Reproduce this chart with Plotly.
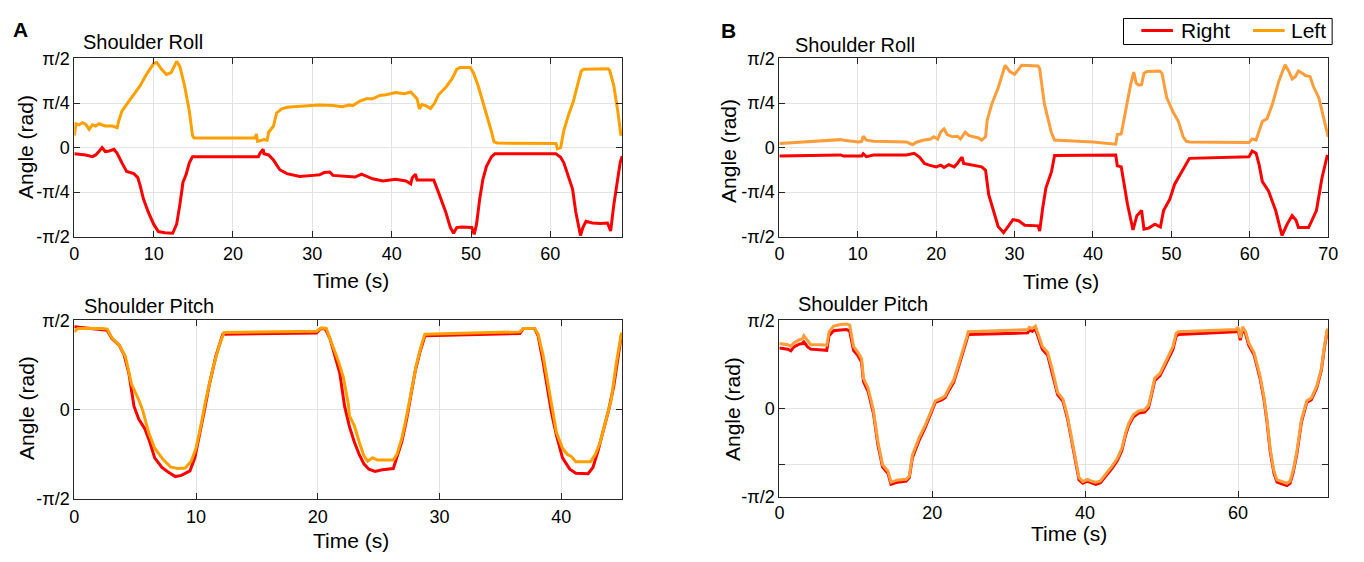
import plotly.graph_objects as go

# ---------------- Data (angles in rad, time in s) ----------------
# Panel A - Shoulder Roll
a_roll_left_t = [0, 0.2, 0.6, 1.04, 1.45, 1.87, 2.28, 2.7, 3.1, 3.9, 4.8, 5.4, 5.6, 6.0, 6.85, 7.7, 8.3, 9.1, 10.0, 10.4,
                 11.0, 11.6, 12.2, 12.9, 13.3, 13.9, 14.5, 14.9, 15.1, 22.8, 22.95, 23.1, 23.9, 24.3, 24.5, 25.1, 25.5, 26.1, 26.8, 27.6,
                 29.3, 30.9, 32.6, 33.8, 34.6, 35.1, 36.0, 36.8, 37.6, 38.5, 39.3, 40.5, 41.6, 42.4, 42.8, 43.2, 43.5, 43.8, 44.3, 44.9,
                 45.4, 45.9, 46.8, 47.6, 48.2, 48.6, 49.9, 50.3, 50.9, 51.5, 52.2, 52.6, 52.9, 53.3, 60.7, 60.9, 61.3, 61.7, 62.3, 62.9,
                 63.4, 63.9, 64.2, 67.3, 67.5, 68.0, 68.5, 68.9, 69.0]
a_roll_left_v = [0.21, 0.42, 0.40, 0.44, 0.41, 0.32, 0.40, 0.38, 0.42, 0.38, 0.38, 0.35, 0.47, 0.64, 0.81, 0.98, 1.09, 1.29, 1.48, 1.50,
                 1.38, 1.29, 1.32, 1.52, 1.43, 1.09, 0.64, 0.21, 0.17, 0.17, 0.24, 0.11, 0.14, 0.13, 0.27, 0.38, 0.61, 0.68, 0.71, 0.72,
                 0.73, 0.75, 0.74, 0.72, 0.75, 0.74, 0.82, 0.86, 0.86, 0.92, 0.93, 0.97, 0.95, 0.98, 0.92, 0.86, 0.68, 0.76, 0.74, 0.69,
                 0.78, 0.93, 1.06, 1.21, 1.38, 1.41, 1.41, 1.32, 1.09, 0.81, 0.47, 0.27, 0.10, 0.08, 0.07, -0.02, 0.0, 0.30, 0.58, 0.81,
                 1.09, 1.35, 1.38, 1.39, 1.35, 1.09, 0.64, 0.21, 0.27]
a_roll_right_t = [0, 1.45, 2.28, 2.7, 3.1, 3.5, 3.9, 4.4, 5.0, 5.4, 6.0, 6.6, 7.5, 8.0, 8.3, 8.7, 9.3, 10.0, 10.6, 11.4,
                  12.4, 12.9, 13.3, 13.7, 14.1, 14.5, 14.9, 23.2, 23.4, 23.8, 23.9, 24.5, 25.1, 25.9, 26.8, 27.6, 28.4, 30.1, 30.9, 31.5,
                  32.2, 32.6, 33.4, 34.6, 35.4, 36.2, 36.8, 37.6, 38.9, 40.5, 41.8, 42.4, 42.6, 43.0, 43.2, 45.3, 45.9, 46.8, 47.4, 47.8,
                  48.2, 48.8, 50.1, 50.4, 50.7, 51.1, 51.5, 51.95, 52.6, 53.0, 60.7, 61.3, 61.7, 62.3, 62.8, 63.2, 63.8, 64.1, 64.5, 65.3,
                  66.3, 67.2, 67.6, 68.0, 68.4, 68.8, 69.05]
a_roll_right_v = [-0.11, -0.13, -0.16, -0.13, -0.07, 0.0, -0.07, -0.06, -0.03, -0.10, -0.27, -0.42, -0.46, -0.53, -0.67, -0.90, -1.13, -1.35, -1.48, -1.50,
                  -1.51, -1.35, -1.01, -0.61, -0.47, -0.27, -0.16, -0.16, -0.10, -0.03, -0.11, -0.13, -0.22, -0.39, -0.46, -0.48, -0.51, -0.49, -0.48, -0.44,
                  -0.43, -0.49, -0.50, -0.51, -0.52, -0.47, -0.50, -0.55, -0.59, -0.56, -0.59, -0.64, -0.53, -0.47, -0.57, -0.57, -0.79, -1.13, -1.41, -1.51,
                  -1.41, -1.40, -1.41, -1.53, -1.35, -0.90, -0.56, -0.33, -0.16, -0.11, -0.11, -0.17, -0.27, -0.50, -0.73, -1.13, -1.55, -1.41, -1.30, -1.33,
                  -1.34, -1.33, -1.47, -1.01, -0.61, -0.27, -0.15]

# Panel B - Shoulder Roll
b_roll_left_t = [0, 3.6, 7.8, 8.2, 10.1, 10.5, 10.7, 11.1, 12.0, 16.2, 17.0, 17.4, 18.3, 19.3, 19.7, 20.2, 20.6, 21.0, 21.4, 22.1,
                 22.7, 23.1, 23.7, 24.2, 24.8, 25.4, 25.8, 26.3, 26.5, 27.1, 27.9, 28.8, 29.4, 30.0, 30.9, 33.0, 33.2, 33.8, 34.7, 35.1,
                 35.5, 40.0, 42.9, 43.1, 43.6, 43.9, 44.4, 44.8, 45.2, 45.5, 45.8, 46.2, 46.5, 46.9, 48.5, 48.8, 49.4, 50.2, 50.9, 51.5,
                 51.9, 52.3, 59.9, 60.3, 60.8, 61.2, 61.6, 62.2, 62.9, 63.7, 64.5, 65.0, 65.4, 65.8, 66.2, 66.7, 67.1, 67.7, 68.1, 68.8,
                 69.4, 70.0]
b_roll_left_v = [0.07, 0.10, 0.14, 0.13, 0.10, 0.11, 0.20, 0.13, 0.11, 0.10, 0.05, 0.09, 0.13, 0.15, 0.19, 0.15, 0.28, 0.33, 0.23, 0.19,
                 0.20, 0.15, 0.27, 0.21, 0.19, 0.17, 0.13, 0.19, 0.48, 0.77, 1.05, 1.45, 1.34, 1.29, 1.45, 1.44, 1.39, 0.77, 0.26, 0.13,
                 0.13, 0.10, 0.06, 0.23, 0.24, 0.46, 0.83, 1.11, 1.33, 1.14, 1.10, 1.11, 1.31, 1.34, 1.35, 1.31, 0.88, 0.63, 0.46, 0.19,
                 0.11, 0.10, 0.09, 0.15, 0.13, 0.28, 0.46, 0.51, 0.77, 1.17, 1.46, 1.34, 1.21, 1.25, 1.35, 1.31, 1.27, 1.25, 1.08, 0.88,
                 0.54, 0.19]
b_roll_right_t = [0, 7.8, 8.2, 10.5, 10.7, 11.1, 12.0, 16.2, 17.2, 17.9, 18.5, 19.1, 20.0, 20.6, 21.0, 21.6, 22.3, 22.7, 23.1, 23.3,
                  23.5, 24.6, 25.8, 26.3, 26.7, 27.3, 27.9, 28.6, 29.2, 29.8, 30.5, 31.3, 33.0, 33.2, 33.6, 34.0, 34.7, 35.1, 42.9, 43.1,
                  43.6, 43.9, 44.4, 45.1, 45.6, 46.2, 46.5, 47.1, 47.9, 48.6, 49.0, 49.8, 50.4, 51.1, 52.3, 59.9, 60.3, 60.8, 61.2, 61.6,
                  62.4, 63.3, 64.1, 64.8, 65.4, 65.9, 66.2, 67.5, 67.9, 68.5, 69.2, 69.9]
b_roll_right_v = [-0.15, -0.13, -0.15, -0.15, -0.11, -0.16, -0.13, -0.13, -0.10, -0.17, -0.28, -0.31, -0.34, -0.31, -0.35, -0.30, -0.34, -0.28, -0.20, -0.17,
                  -0.28, -0.31, -0.34, -0.40, -0.83, -1.11, -1.39, -1.50, -1.39, -1.27, -1.29, -1.37, -1.38, -1.47, -1.05, -0.71, -0.43, -0.14, -0.13, -0.32,
                  -0.34, -0.60, -1.00, -1.45, -1.20, -1.11, -1.44, -1.42, -1.35, -1.40, -1.11, -0.91, -0.65, -0.48, -0.19, -0.16, -0.06, -0.10, -0.31, -0.60,
                  -0.77, -1.11, -1.55, -1.34, -1.20, -1.28, -1.41, -1.41, -1.29, -1.11, -0.54, -0.13]

# Panel A - Shoulder Pitch
a_pitch_right_t = [0, 1.2, 2.3, 2.7, 3.1, 3.7, 4.1, 4.5, 4.9, 5.3, 5.8, 6.2, 6.6, 7.2, 7.7, 8.3, 8.8, 9.5, 9.9, 10.3,
                   10.7, 11.1, 11.65, 12.2, 19.9, 20.2, 20.6, 21.0, 21.4, 21.8, 22.2, 22.6, 23.0, 23.4, 23.8, 24.2, 24.7, 25.3, 26.2, 26.5,
                   26.9, 27.3, 27.6, 28.0, 28.4, 28.8, 36.6, 36.9, 37.8, 38.1, 38.5, 38.9, 39.2, 39.6, 40.1, 40.7, 41.2, 42.2, 42.6, 43.0,
                   43.4, 43.9, 44.3, 44.7, 44.95]
a_pitch_right_v = [1.46, 1.43, 1.40, 1.40, 1.25, 1.13, 0.96, 0.62, 0.06, -0.17, -0.34, -0.57, -0.85, -1.02, -1.10, -1.18, -1.16, -1.08, -0.85, -0.45,
                   0.0, 0.45, 0.96, 1.33, 1.35, 1.42, 1.43, 1.25, 0.96, 0.65, 0.06, -0.30, -0.57, -0.79, -0.96, -1.05, -1.09, -1.06, -1.04, -0.85,
                   -0.57, -0.17, 0.17, 0.68, 1.02, 1.30, 1.34, 1.43, 1.43, 1.30, 0.85, 0.34, -0.06, -0.45, -0.85, -1.05, -1.12, -1.13, -1.02, -0.74,
                   -0.40, 0.0, 0.40, 0.96, 1.33]
a_pitch_left_t = [0, 0.27, 2.3, 2.7, 3.1, 3.7, 4.2, 4.7, 5.3, 5.6, 6.1, 6.6, 7.3, 7.9, 8.5, 9.1, 9.6, 10.0, 10.4, 10.8,
                  11.4, 11.9, 12.3, 19.9, 20.3, 20.7, 21.1, 21.7, 22.1, 22.5, 22.6, 23.0, 23.4, 23.8, 24.1, 24.5, 24.9, 26.2, 26.5, 26.9,
                  27.3, 27.7, 28.1, 28.5, 28.8, 36.6, 36.9, 37.8, 38.1, 38.5, 38.9, 39.2, 39.6, 40.1, 40.5, 40.8, 41.2, 42.4, 42.8, 43.2,
                  43.6, 44.1, 44.5, 44.95]
a_pitch_left_v = [1.37, 1.43, 1.43, 1.42, 1.26, 1.13, 0.93, 0.45, 0.17, 0.0, -0.40, -0.68, -0.88, -1.01, -1.04, -1.03, -0.91, -0.68, -0.28, 0.17,
                  0.74, 1.13, 1.36, 1.38, 1.44, 1.43, 1.19, 0.85, 0.57, 0.11, -0.11, -0.28, -0.57, -0.82, -0.91, -0.85, -0.89, -0.89, -0.79, -0.51,
                  -0.11, 0.34, 0.79, 1.13, 1.33, 1.37, 1.43, 1.43, 1.33, 0.96, 0.45, 0.11, -0.40, -0.68, -0.79, -0.82, -0.92, -0.92, -0.79, -0.57,
                  -0.23, 0.17, 0.79, 1.36]

# Panel B - Shoulder Pitch
b_pitch_t = [0, 1.1, 1.5, 1.9, 2.6, 3.0, 3.2, 3.7, 4.1, 5.4, 6.2, 6.5, 7.1, 8.0, 8.8, 9.2, 9.7, 10.3, 10.75, 11.0,
             11.6, 12.3, 12.9, 13.5, 14.2, 14.6, 15.5, 16.6, 17.0, 17.4, 18.3, 19.1, 20.0, 20.4, 21.3, 21.7, 22.2, 22.8, 23.4, 24.1,
             24.5, 24.7, 32.5, 32.7, 33.1, 33.5, 34.0, 34.4, 35.1, 35.7, 36.4, 37.1, 37.7, 38.1, 38.6, 39.2, 39.7, 40.3, 41.0, 41.4,
             42.0, 42.7, 43.5, 44.2, 44.8, 45.3, 45.7, 46.3, 47.0, 47.8, 48.3, 48.7, 49.1, 49.8, 50.4, 50.9, 51.5, 51.9, 52.2, 59.7,
             60.0, 60.3, 60.6, 61.0, 61.4, 62.1, 62.5, 62.9, 63.4, 63.8, 64.2, 64.7, 65.1, 65.7, 66.4, 66.8, 67.2, 67.7, 68.3, 69.0,
             69.6, 70.3, 70.9, 71.3, 71.7]
b_pitch_left_v = [1.16, 1.14, 1.11, 1.17, 1.23, 1.24, 1.30, 1.20, 1.14, 1.14, 1.13, 1.37, 1.47, 1.50, 1.51, 1.49, 1.11, 1.00, 0.89, 0.54,
                  0.37, -0.03, -0.60, -1.00, -1.11, -1.31, -1.27, -1.26, -1.20, -0.83, -0.51, -0.29, 0.03, 0.14, 0.19, 0.23, 0.37, 0.51, 0.77, 1.06,
                  1.26, 1.37, 1.41, 1.45, 1.43, 1.47, 1.29, 1.11, 1.00, 0.70, 0.29, 0.17, -0.14, -0.43, -0.77, -1.23, -1.30, -1.26, -1.30, -1.31,
                  -1.29, -1.17, -1.03, -0.89, -0.71, -0.43, -0.26, -0.11, -0.04, -0.02, 0.06, 0.29, 0.54, 0.63, 0.80, 0.94, 1.11, 1.34, 1.37, 1.41,
                  1.45, 1.26, 1.46, 1.37, 1.17, 1.00, 0.77, 0.57, 0.20, -0.20, -0.71, -1.11, -1.27, -1.30, -1.33, -1.29, -1.11, -0.77, -0.20, 0.14,
                  0.19, 0.40, 0.71, 1.11, 1.43]
b_pitch_right_v = [1.08, 1.06, 1.03, 1.10, 1.15, 1.16, 1.19, 1.10, 1.06, 1.05, 1.04, 1.30, 1.39, 1.40, 1.41, 1.38, 1.04, 0.94, 0.83, 0.48,
                   0.31, -0.08, -0.65, -1.04, -1.15, -1.35, -1.31, -1.29, -1.23, -0.88, -0.56, -0.33, -0.01, 0.11, 0.16, 0.20, 0.33, 0.47, 0.73, 1.02,
                   1.22, 1.32, 1.35, 1.40, 1.38, 1.42, 1.24, 1.06, 0.95, 0.65, 0.25, 0.13, -0.18, -0.47, -0.81, -1.27, -1.33, -1.29, -1.33, -1.35,
                   -1.32, -1.21, -1.07, -0.93, -0.75, -0.47, -0.30, -0.15, -0.08, -0.06, 0.02, 0.25, 0.50, 0.59, 0.75, 0.89, 1.06, 1.29, 1.32, 1.37,
                   1.41, 1.22, 1.42, 1.33, 1.13, 0.96, 0.73, 0.53, 0.16, -0.24, -0.75, -1.15, -1.31, -1.34, -1.37, -1.33, -1.15, -0.81, -0.24, 0.11,
                   0.16, 0.37, 0.68, 1.08, 1.40]

for tt, vv in [(a_roll_left_t, a_roll_left_v), (a_roll_right_t, a_roll_right_v),
               (b_roll_left_t, b_roll_left_v), (b_roll_right_t, b_roll_right_v),
               (a_pitch_right_t, a_pitch_right_v), (a_pitch_left_t, a_pitch_left_v),
               (b_pitch_t, b_pitch_left_v), (b_pitch_t, b_pitch_right_v)]:
    assert len(tt) == len(vv), (len(tt), len(vv))

PI = 3.141592653589793
roll_tickvals = [-PI / 2, -PI / 4, 0, PI / 4, PI / 2]
roll_ticktext = ["-π/2", "-π/4", "0", "π/4", "π/2"]
pitch_a_tickvals = [-PI / 2, 0, PI / 2]
pitch_a_ticktext = ["-π/2", "0", "π/2"]
pitch_b_tickvals = [-PI / 2, -1, 0, PI / 2]
pitch_b_ticktext = ["-π/2", "", "0", "π/2"]
legend_labels = ["Right", "Left"]

RED = "#FF0000"
ORANGE_A = "#FFA000"
ORANGE_B = "#FF9D3A"
FONT = "Liberation Sans, Arial, Helvetica, sans-serif"

# The page body keeps its default 8px margin, so the figure is sized to fit the
# 1364x562 window exactly and all positions below are given in window pixels.
OFF = 8
W, H = 1364 - 2 * OFF, 562 - 2 * OFF


def px(x):
    return (x - OFF) / W


def py(y):
    return 1 - (y - OFF) / H


fig = go.Figure()


def add(t, v, color, xa, ya, name):
    fig.add_trace(go.Scatter(x=t, y=v, mode="lines", name=name, showlegend=False,
                             line=dict(color=color, width=3), xaxis=xa, yaxis=ya,
                             hoverinfo="skip"))


add(a_roll_right_t, a_roll_right_v, RED, "x", "y", "Right")
add(a_roll_left_t, a_roll_left_v, ORANGE_A, "x", "y", "Left")
add(b_roll_right_t, b_roll_right_v, RED, "x2", "y2", "Right")
add(b_roll_left_t, b_roll_left_v, ORANGE_B, "x2", "y2", "Left")
add(a_pitch_right_t, a_pitch_right_v, RED, "x3", "y3", "Right")
add(a_pitch_left_t, a_pitch_left_v, ORANGE_A, "x3", "y3", "Left")
add(b_pitch_t, b_pitch_right_v, RED, "x4", "y4", "Right")
add(b_pitch_t, b_pitch_left_v, ORANGE_B, "x4", "y4", "Left")

axis_common = dict(showline=True, linecolor="#262626", linewidth=1, mirror="ticks",
                   ticks="inside", ticklen=6, tickcolor="#262626", tickwidth=1,
                   showgrid=True, gridcolor="#E3E3E3", gridwidth=1, zeroline=False,
                   tickfont=dict(family=FONT, size=18, color="#000000"))

fig.update_layout(
    width=W, height=H, autosize=False,
    margin=dict(l=0, r=0, t=0, b=0),
    paper_bgcolor="white", plot_bgcolor="white",
    font=dict(family=FONT, color="#000000"),
    showlegend=False,
    xaxis=dict(domain=[px(70), px(624)], range=[0, 69.05], tickvals=[0, 10, 20, 30, 40, 50, 60], anchor="y",
               ticklabelstandoff=1, **axis_common),
    yaxis=dict(domain=[py(235), py(50)], range=[-PI / 2, PI / 2], tickvals=roll_tickvals, ticktext=roll_ticktext, anchor="x", **axis_common),
    xaxis2=dict(domain=[px(783), px(1338)], range=[0, 70], tickvals=[0, 10, 20, 30, 40, 50, 60, 70], anchor="y2",
                ticklabelstandoff=1, **axis_common),
    yaxis2=dict(domain=[py(235), py(50)], range=[-PI / 2, PI / 2], tickvals=roll_tickvals, ticktext=roll_ticktext, anchor="x2", **axis_common),
    xaxis3=dict(domain=[px(70), px(624)], range=[0, 45], tickvals=[0, 10, 20, 30, 40], anchor="y3",
                ticklabelstandoff=2, **axis_common),
    yaxis3=dict(domain=[py(507), py(322)], range=[-PI / 2, PI / 2], tickvals=pitch_a_tickvals, ticktext=pitch_a_ticktext, anchor="x3", **axis_common),
    xaxis4=dict(domain=[px(783), px(1338)], range=[0, 71.8], tickvals=[0, 20, 40, 60], anchor="y4", **axis_common),
    yaxis4=dict(domain=[py(505), py(322)], range=[-PI / 2, PI / 2], tickvals=pitch_b_tickvals, ticktext=pitch_b_ticktext, anchor="x4", **axis_common),
)

ann = []


def text(x, y, s, size, bold=False, angle=0, xanchor="center"):
    ann.append(dict(x=px(x), y=py(y), xref="paper", yref="paper", text=("<b>%s</b>" % s) if bold else s,
                    showarrow=False, xanchor=xanchor, yanchor="middle", textangle=angle,
                    font=dict(family=FONT, size=size, color="#000000")))


text(16, 20, "A", 21, bold=True)
text(732, 21, "B", 21, bold=True)
text(77, 33, "Shoulder Roll", 20, xanchor="left")
text(797, 36, "Shoulder Roll", 20, xanchor="left")
text(78, 307, "Shoulder Pitch", 20, xanchor="left")
text(800, 305, "Shoulder Pitch", 20, xanchor="left")
text(20, 142, "Angle (rad)", 21, angle=-90)
text(21, 413, "Angle (rad)", 21, angle=-90)
text(732, 146, "Angle (rad)", 21, angle=-90)
text(735, 414, "Angle (rad)", 21, angle=-90)
text(350, 280, "Time (s)", 21)
text(350, 550, "Time (s)", 21)
text(1068, 282, "Time (s)", 21)
text(1076, 543, "Time (s)", 21)

# Legend (box, line samples, labels)
text(1187, 21, legend_labels[0], 21, xanchor="left")
text(1298, 21, legend_labels[1], 21, xanchor="left")
shapes = [
    dict(type="rect", xref="paper", yref="paper", x0=px(1131), x1=px(1342), y0=py(35.5), y1=py(8.5),
         line=dict(color="#000000", width=1), fillcolor="white", layer="above"),
    dict(type="line", xref="paper", yref="paper", x0=px(1149), x1=px(1181), y0=py(21), y1=py(21),
         line=dict(color=RED, width=3), layer="above"),
    dict(type="line", xref="paper", yref="paper", x0=px(1262), x1=px(1294), y0=py(21), y1=py(21),
         line=dict(color=ORANGE_A, width=3), layer="above"),
]
fig.update_layout(annotations=ann, shapes=shapes)

fig.write_html("out.html", config={"displayModeBar": False})
